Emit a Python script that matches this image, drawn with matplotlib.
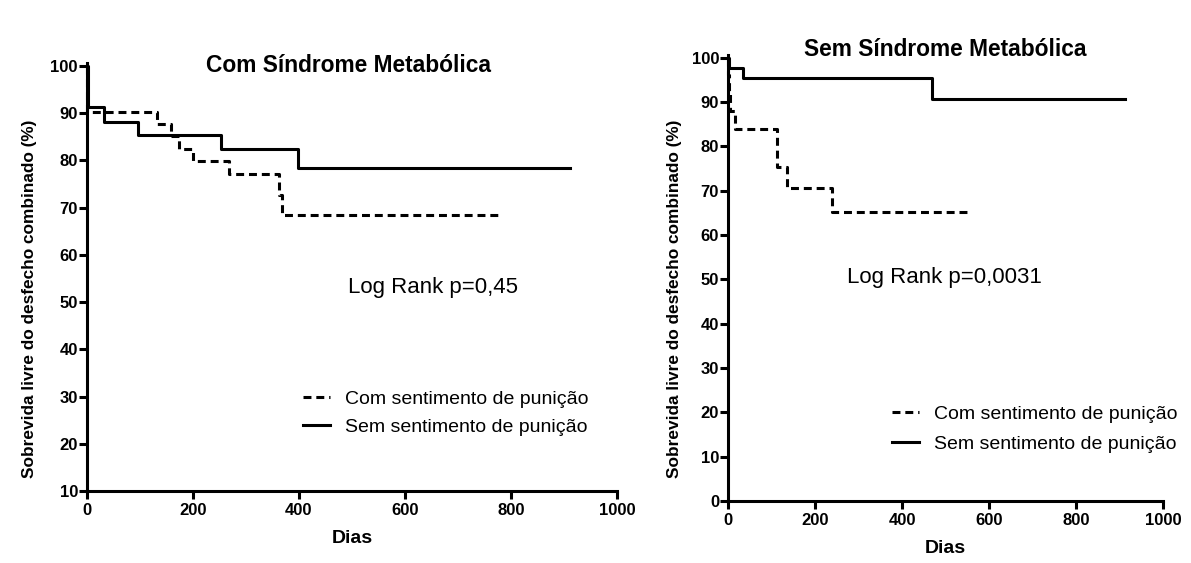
import matplotlib
matplotlib.use('Agg')
import matplotlib.pyplot as plt

plt.rcParams['font.family'] = ['Liberation Sans', 'DejaVu Sans']

# ─── Data (Kaplan-Meier steps) ────────────────────────────────────────────────
# Com Síndrome Metabólica
L_COM_DAYS = [0, 1, 132, 159, 173, 201, 268, 362, 368, 778]
L_COM_SURV = [100, 90.3, 87.7, 85.1, 82.5, 79.8, 77.0, 72.7, 68.4, 68.4]
L_SEM_DAYS = [0, 2, 33, 97, 252, 398, 911]
L_SEM_SURV = [100, 91.2, 88.2, 85.3, 82.4, 78.4, 78.4]

# Sem Síndrome Metabólica
R_COM_DAYS = [0, 1, 3, 5, 16, 113, 135, 238, 556]
R_COM_SURV = [100, 96.0, 92.0, 88.0, 84.0, 75.4, 70.7, 65.3, 65.3]
R_SEM_DAYS = [0, 3, 35, 468, 912]
R_SEM_SURV = [100, 97.7, 95.4, 90.7, 90.7]

LABELS = ['Com sentimento de punição', 'Sem sentimento de punição']
TITLES = ['Com Síndrome Metabólica', 'Sem Síndrome Metabólica']
PVALS = ['Log Rank p=0,45', 'Log Rank p=0,0031']
YLABEL = 'Sobrevida livre do desfecho combinado (%)'

W, H = 1191, 563
LW = 2.2
DASH = (0, (2.6, 1.6))

fig = plt.figure(figsize=(W / 100, H / 100), dpi=100)
axL = fig.add_axes([0.0730, 0.1279, 0.4450, 0.7602])
axR = fig.add_axes([0.6113, 0.1101, 0.3652, 0.7922])


def px(x, y):
    """pixel position (from top-left) -> figure fraction"""
    return x / W, 1 - y / H


def style(ax, ymin):
    for s in ('top', 'right'):
        ax.spines[s].set_visible(False)
    for s in ('left', 'bottom'):
        ax.spines[s].set_linewidth(LW)
    ax.set_xlim(0, 1000)
    ax.set_ylim(ymin, 100.6)
    ax.set_xticks(range(0, 1001, 200))
    ax.set_yticks(range(ymin, 101, 10))
    ax.tick_params(width=LW, length=5.5, labelsize=12)
    ax.tick_params(axis='x', pad=3)
    ax.tick_params(axis='y', pad=1)
    for t in ax.get_xticklabels() + ax.get_yticklabels():
        t.set_fontweight('bold')
    ax.set_xlabel('Dias', fontsize=14, fontweight='bold', labelpad=9)


def legend(ax, anchor, spacing):
    ax.legend(loc='upper left', bbox_to_anchor=anchor, frameon=False,
              fontsize=14, handlelength=1.39, handletextpad=0.77,
              labelspacing=spacing, borderpad=0)


# ─── Left panel ───────────────────────────────────────────────────────────────
axL.step(L_COM_DAYS, L_COM_SURV, where='post', color='black', lw=LW,
         linestyle=DASH, label=LABELS[0], clip_on=False)
axL.step(L_SEM_DAYS, L_SEM_SURV, where='post', color='black', lw=LW,
         label=LABELS[1], clip_on=False)
style(axL, 10)
legend(axL, (0.39, 0.258), 0.52)

# ─── Right panel ──────────────────────────────────────────────────────────────
axR.step(R_COM_DAYS, R_COM_SURV, where='post', color='black', lw=LW,
         linestyle=DASH, label=LABELS[0], clip_on=False)
axR.step(R_SEM_DAYS, R_SEM_SURV, where='post', color='black', lw=LW,
         label=LABELS[1], clip_on=False)
style(axR, 0)
legend(axR, (0.354, 0.236), 0.62)

# ─── Titles, p-values, y labels ───────────────────────────────────────────────
fig.text(*px(349, 66), TITLES[0], ha='center', va='center',
         fontsize=16.4, fontweight='bold')
fig.text(*px(945, 50), TITLES[1], ha='center', va='center',
         fontsize=16.4, fontweight='bold')
fig.text(*px(433, 288), PVALS[0], ha='center', va='center', fontsize=16)
fig.text(*px(944, 278), PVALS[1], ha='center', va='center', fontsize=16)
fig.text(*px(30, 299), YLABEL, ha='center', va='center', rotation=90,
         fontsize=12.4, fontweight='bold')
fig.text(*px(675, 299), YLABEL, ha='center', va='center', rotation=90,
         fontsize=12.4, fontweight='bold')

fig.savefig('out.png', dpi=100, facecolor='white')
